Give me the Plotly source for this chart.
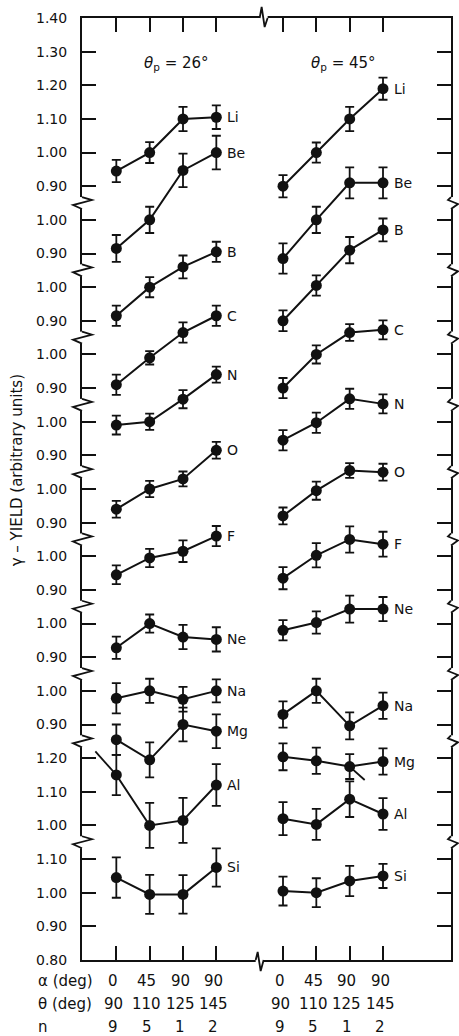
import plotly.graph_objects as go

# ---- detector settings (x categories) ----
ALPHA = ["0", "45", "90", "90"]
THETA = ["90", "110", "125", "145"]
N_COUNT = ["9", "5", "1", "2"]

# ---- gamma yields, theta_p = 26 deg ----
LI_26 = [0.945, 1.00, 1.10, 1.105]
BE_26 = [0.915, 1.00, 1.147, 1.20]
B_26 = [0.915, 1.00, 1.06, 1.105]
C_26 = [0.91, 0.99, 1.065, 1.115]
N_26 = [0.99, 1.00, 1.067, 1.14]
O_26 = [0.94, 1.00, 1.03, 1.115]
F_26 = [0.945, 0.995, 1.015, 1.06]
NE_26 = [0.928, 1.00, 0.96, 0.953]
NA_26 = [0.978, 1.00, 0.975, 1.00]
MG_26 = [1.255, 1.195, 1.30, 1.28]
AL_26 = [1.15, 1.00, 1.015, 1.12]
SI_26 = [1.045, 0.995, 0.995, 1.075]

LI_26_ERR = [0.033, 0.031, 0.036, 0.035]
BE_26_ERR = [0.040, 0.039, 0.050, 0.050]
B_26_ERR = [0.030, 0.030, 0.034, 0.030]
C_26_ERR = [0.030, 0.020, 0.030, 0.030]
N_26_ERR = [0.028, 0.024, 0.027, 0.024]
O_26_ERR = [0.025, 0.024, 0.022, 0.025]
F_26_ERR = [0.028, 0.027, 0.032, 0.030]
NE_26_ERR = [0.033, 0.027, 0.036, 0.036]
NA_26_ERR = [0.045, 0.036, 0.037, 0.034]
MG_26_ERR = [0.045, 0.052, 0.050, 0.050]
AL_26_ERR = [0.060, 0.067, 0.067, 0.062]
SI_26_ERR = [0.060, 0.058, 0.057, 0.057]

# ---- gamma yields, theta_p = 45 deg ----
LI_45 = [0.90, 1.00, 1.10, 1.19]
BE_45 = [0.885, 1.00, 1.11, 1.11]
B_45 = [0.90, 1.005, 1.11, 1.17]
C_45 = [0.90, 1.00, 1.065, 1.073]
N_45 = [0.945, 0.997, 1.068, 1.053]
O_45 = [0.92, 0.995, 1.055, 1.05]
F_45 = [0.935, 1.003, 1.05, 1.036]
NE_45 = [0.98, 1.003, 1.043, 1.043]
NA_45 = [0.93, 1.00, 0.896, 0.956]
MG_45 = [1.204, 1.192, 1.175, 1.19]
AL_45 = [1.02, 1.003, 1.078, 1.034]
SI_45 = [1.005, 1.00, 1.035, 1.05]

LI_45_ERR = [0.033, 0.030, 0.036, 0.033]
BE_45_ERR = [0.045, 0.039, 0.046, 0.046]
B_45_ERR = [0.031, 0.030, 0.039, 0.034]
C_45_ERR = [0.030, 0.027, 0.025, 0.028]
N_45_ERR = [0.030, 0.030, 0.030, 0.028]
O_45_ERR = [0.025, 0.027, 0.022, 0.025]
F_45_ERR = [0.033, 0.036, 0.039, 0.037]
NE_45_ERR = [0.030, 0.033, 0.040, 0.036]
NA_45_ERR = [0.039, 0.036, 0.040, 0.039]
MG_45_ERR = [0.040, 0.039, 0.037, 0.039]
AL_45_ERR = [0.049, 0.046, 0.053, 0.047]
SI_45_ERR = [0.043, 0.043, 0.045, 0.036]

# short connector strokes drawn off the grid points
AL_26_LEAD = [1.22, 1.15]      # Al curve entering from the 1.20 tick
MG_45_TAIL = [1.175, 1.135]    # Mg curve leaving downward after third point

# stacked broken axis: tick labels from bottom to top
Y_TICK_TEXT = ["0.80", "0.90", "1.00", "1.10",
               "1.00", "1.10", "1.20",
               "0.90", "1.00", "0.90", "1.00", "0.90", "1.00",
               "0.90", "1.00", "0.90", "1.00", "0.90", "1.00",
               "0.90", "1.00", "0.90", "1.00",
               "0.90", "1.00", "1.10", "1.20", "1.30", "1.40"]

# ---- layout geometry ----
L, R, T, B = 82, 6, 18, 76
FIG_W, FIG_H = 459, 1036
PW, PH = FIG_W - L - R, FIG_H - T - B
XMIN, XMAX = -1.03, 10.04
YMIN, YMAX = 0, len(Y_TICK_TEXT) - 1

X_26 = [0, 1, 2, 3]
X_45 = [5, 6, 7, 8]

# band position of the 1.00 level for each element
BASE = {"Li": 24, "Be": 22, "B": 20, "C": 18, "N": 16, "O": 14,
        "F": 12, "Ne": 10, "Na": 8, "Mg": 4, "Al": 4, "Si": 2}
BREAKS = [3.5, 6.5, 8.5, 10.5, 12.5, 14.5, 16.5, 18.5, 20.5, 22.5]

SERIES = [
    ("Li", LI_26, LI_26_ERR, LI_45, LI_45_ERR),
    ("Be", BE_26, BE_26_ERR, BE_45, BE_45_ERR),
    ("B", B_26, B_26_ERR, B_45, B_45_ERR),
    ("C", C_26, C_26_ERR, C_45, C_45_ERR),
    ("N", N_26, N_26_ERR, N_45, N_45_ERR),
    ("O", O_26, O_26_ERR, O_45, O_45_ERR),
    ("F", F_26, F_26_ERR, F_45, F_45_ERR),
    ("Ne", NE_26, NE_26_ERR, NE_45, NE_45_ERR),
    ("Na", NA_26, NA_26_ERR, NA_45, NA_45_ERR),
    ("Mg", MG_26, MG_26_ERR, MG_45, MG_45_ERR),
    ("Al", AL_26, AL_26_ERR, AL_45, AL_45_ERR),
    ("Si", SI_26, SI_26_ERR, SI_45, SI_45_ERR),
]

INK = "#111111"
FONT = "DejaVu Sans"


def band(el, vals):
    return [BASE[el] + (v - 1.0) * 10 for v in vals]


def px(xd):
    return (xd - XMIN) / (XMAX - XMIN)


def py(yd):
    return (yd - YMIN) / (YMAX - YMIN)


fig = go.Figure()

for el, v26, e26, v45, e45 in SERIES:
    for xs, vals, errs in ((X_26, v26, e26), (X_45, v45, e45)):
        fig.add_trace(go.Scatter(
            x=xs, y=band(el, vals), mode="lines+markers",
            line=dict(color=INK, width=2),
            marker=dict(color=INK, size=11),
            error_y=dict(type="data", array=[e * 10 for e in errs],
                         color=INK, thickness=1.8, width=4.5),
            showlegend=False, hoverinfo="skip", cliponaxis=False))
    fig.add_annotation(x=X_26[-1], y=band(el, v26)[-1], text=el,
                       xanchor="left", xshift=9, showarrow=False,
                       font=dict(size=14, color=INK, family=FONT))
    fig.add_annotation(x=X_45[-1], y=band(el, v45)[-1], text=el,
                       xanchor="left", xshift=9, showarrow=False,
                       font=dict(size=14, color=INK, family=FONT))

fig.add_trace(go.Scatter(x=[-0.63, X_26[0]], y=band("Al", AL_26_LEAD), mode="lines",
                         line=dict(color=INK, width=1.8), showlegend=False,
                         hoverinfo="skip", cliponaxis=False))
fig.add_trace(go.Scatter(x=[X_45[2], X_45[2] + 0.45], y=band("Mg", MG_45_TAIL), mode="lines",
                         line=dict(color=INK, width=1.8), showlegend=False,
                         hoverinfo="skip", cliponaxis=False))

# ---- axis break marks ----
shapes = []


def seg(points, color, width):
    d = "M " + " L ".join(f"{x:.5f},{y:.5f}" for x, y in points)
    shapes.append(dict(type="path", path=d, xref="paper", yref="paper",
                       line=dict(color=color, width=width), layer="above"))


dxp = 1 / PW
dyp = 1 / PH
for b in BREAKS:
    yb = py(b)
    # left axis: jog pointing outward
    seg([(0, yb + 6 * dyp), (0, yb - 6 * dyp)], "white", 4)
    seg([(0, yb + 6 * dyp), (10 * dxp, yb + 3 * dyp), (-9 * dxp, yb - 2 * dyp),
         (0, yb - 6 * dyp)], INK, 1.8)
    # right axis
    seg([(1, yb + 6 * dyp), (1, yb - 6 * dyp)], "white", 4)
    seg([(1, yb + 6 * dyp), (-3 * dxp + 1, yb + 3 * dyp), (1 + 7 * dxp, yb - 1 * dyp),
         (1, yb - 6 * dyp)], INK, 1.8)

xb = px(4.3)
seg([(xb, 1), (xb + 8 * dxp, 1)], "white", 4)
seg([(xb, 1), (xb + 2 * dxp, 1 + 11 * dyp), (xb + 5 * dxp, 1 - 9 * dyp), (xb + 8 * dxp, 1)], INK, 1.8)
seg([(xb - 4 * dxp, 0), (xb + 4 * dxp, 0)], "white", 4)
seg([(xb - 4 * dxp, 0), (xb - 2 * dxp, 8 * dyp), (xb + 1 * dxp, -11 * dyp), (xb + 4 * dxp, 0)], INK, 1.8)

# ---- text: titles, axis title, bottom table ----
ann_font = dict(size=15, color=INK, family=FONT)
fig.add_annotation(x=1.8, y=26.65, text="<i>θ</i><sub>p</sub> = 26°", showarrow=False, font=ann_font)
fig.add_annotation(x=6.8, y=26.65, text="<i>θ</i><sub>p</sub> = 45°", showarrow=False, font=ann_font)

fig.add_annotation(xref="paper", yref="paper", x=(17 - L) / PW, y=(FIG_H - B - 470) / PH,
                   xanchor="center", yanchor="middle",
                   text="γ – YIELD (arbitrary units)", textangle=-90, showarrow=False,
                   font=dict(size=15, color=INK, family=FONT))

rows = [("α (deg)", ALPHA, 981), ("θ (deg)", THETA, 1004), ("n", N_COUNT, 1027)]
for label, vals, ypx in rows:
    yp = (FIG_H - B - ypx) / PH
    fig.add_annotation(xref="paper", yref="paper", x=(36 - L) / PW, y=yp, text=label,
                       xanchor="left", yanchor="middle", showarrow=False, font=ann_font)
    for xs in (X_26, X_45):
        for xv, t in zip(xs, vals):
            fig.add_annotation(x=xv, xref="x", yref="paper", y=yp, text=t,
                               xanchor="center", yanchor="middle", xshift=-3,
                               showarrow=False, font=ann_font)

fig.update_layout(
    width=FIG_W, height=FIG_H,
    margin=dict(l=L, r=R, t=T, b=B, pad=0),
    paper_bgcolor="white", plot_bgcolor="white",
    shapes=shapes,
    xaxis=dict(range=[XMIN, XMAX], tickvals=X_26 + X_45, showticklabels=False,
               ticks="inside", ticklen=14, tickwidth=1.8, tickcolor=INK,
               showline=True, linecolor=INK, linewidth=2, mirror="ticks",
               showgrid=False, zeroline=False),
    yaxis=dict(range=[YMIN, YMAX], tickvals=list(range(len(Y_TICK_TEXT))),
               ticktext=Y_TICK_TEXT, ticks="inside", ticklen=14, tickwidth=1.8,
               tickcolor=INK, showline=True, linecolor=INK, linewidth=2,
               mirror="ticks", showgrid=False, zeroline=False,
               ticklabelstandoff=10,
               tickfont=dict(size=14, color=INK, family=FONT)),
)

fig.write_html("out.html")
